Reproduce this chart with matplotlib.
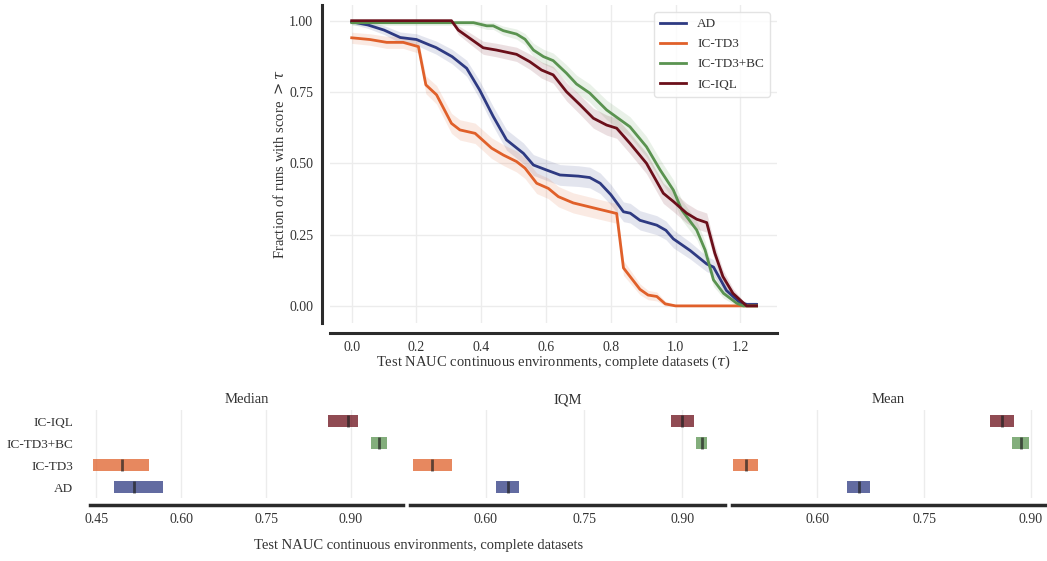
import numpy as np
import matplotlib
matplotlib.use("Agg")
import matplotlib.pyplot as plt

plt.rcParams['font.family'] = ['Liberation Serif', 'DejaVu Serif']
plt.rcParams['mathtext.fontset'] = 'dejavuserif'

# ---------------- data ----------------
algorithms = ["AD", "IC-TD3", "IC-TD3+BC", "IC-IQL"]
colors = {"AD": "#2e3a82", "IC-TD3": "#e0602a", "IC-TD3+BC": "#5a9350", "IC-IQL": "#6b0f1a"}

ad_x = [0, 0.05, 0.1, 0.15, 0.2, 0.24, 0.26, 0.31, 0.355, 0.395, 0.437, 0.478, 0.53, 0.561, 0.60, 0.643,
        0.70, 0.735, 0.767, 0.80, 0.839, 0.86, 0.89, 0.942, 0.97, 0.993, 1.045, 1.096, 1.117, 1.157, 1.198, 1.22, 1.25]
ad_y = [0.996, 0.985, 0.967, 0.941, 0.934, 0.915, 0.906, 0.874, 0.833, 0.757, 0.664, 0.582, 0.535, 0.494, 0.477, 0.459,
        0.455, 0.450, 0.430, 0.39, 0.33, 0.325, 0.30, 0.283, 0.265, 0.235, 0.194, 0.147, 0.136, 0.054, 0.012, 0.005, 0.005]

td3_x = [0, 0.056, 0.108, 0.159, 0.206, 0.229, 0.262, 0.308, 0.334, 0.381, 0.432, 0.468, 0.509, 0.535, 0.571, 0.607,
         0.638, 0.684, 0.767, 0.818, 0.839, 0.89, 0.915, 0.942, 0.968, 1.0, 1.25]
td3_y = [0.940, 0.934, 0.924, 0.924, 0.909, 0.775, 0.740, 0.640, 0.617, 0.605, 0.553, 0.529, 0.506, 0.483, 0.430, 0.412,
         0.383, 0.361, 0.338, 0.324, 0.133, 0.058, 0.038, 0.033, 0.007, 0.0, 0.0]

td3bc_x = [0, 0.376, 0.417, 0.437, 0.468, 0.509, 0.535, 0.561, 0.592, 0.622, 0.663, 0.694, 0.735, 0.787, 0.859,
           0.91, 0.952, 0.993, 1.019, 1.065, 1.091, 1.117, 1.148, 1.189, 1.209, 1.25]
td3bc_y = [0.993, 0.993, 0.982, 0.982, 0.965, 0.953, 0.935, 0.897, 0.874, 0.860, 0.816, 0.778, 0.746, 0.687, 0.628,
           0.558, 0.477, 0.406, 0.336, 0.266, 0.196, 0.091, 0.044, 0.009, 0.0, 0.0]

iql_x = [0, 0.308, 0.329, 0.365, 0.406, 0.447, 0.509, 0.55, 0.586, 0.622, 0.663, 0.705, 0.746, 0.787, 0.818, 0.859,
         0.91, 0.962, 0.993, 1.034, 1.065, 1.096, 1.121, 1.146, 1.177, 1.219, 1.25]
iql_y = [1.0, 1.0, 0.967, 0.938, 0.905, 0.897, 0.882, 0.856, 0.827, 0.810, 0.751, 0.705, 0.658, 0.634, 0.623, 0.570,
         0.500, 0.395, 0.366, 0.325, 0.304, 0.292, 0.185, 0.103, 0.044, 0.0, 0.0]

profiles = {"AD": (ad_x, ad_y), "IC-TD3": (td3_x, td3_y),
            "IC-TD3+BC": (td3bc_x, td3bc_y), "IC-IQL": (iql_x, iql_y)}

metrics = ["Median", "IQM", "Mean"]
# (low, point, high) per algorithm per metric
median_ci = {"AD": (0.481, 0.516, 0.568), "IC-TD3": (0.444, 0.496, 0.543),
             "IC-TD3+BC": (0.935, 0.949, 0.963), "IC-IQL": (0.859, 0.894, 0.912)}
iqm_ci = {"AD": (0.615, 0.633, 0.650), "IC-TD3": (0.488, 0.517, 0.548),
          "IC-TD3+BC": (0.921, 0.930, 0.938), "IC-IQL": (0.882, 0.900, 0.918)}
mean_ci = {"AD": (0.642, 0.658, 0.674), "IC-TD3": (0.482, 0.499, 0.517),
           "IC-TD3+BC": (0.874, 0.886, 0.898), "IC-IQL": (0.843, 0.860, 0.877)}
metric_data = [median_ci, iqm_ci, mean_ci]
metric_xlims = [(0.439, 0.992), (0.484, 0.965), (0.480, 0.920)]
interval_ticks = [0.45, 0.60, 0.75, 0.90]
row_order = ["AD", "IC-TD3", "IC-TD3+BC", "IC-IQL"]  # bottom to top

xlabel_text = "Test NAUC continuous environments, complete datasets"

# ---------------- figure ----------------
W, H = 1047, 561
fig = plt.figure(figsize=(W / 100, H / 100), dpi=100)

def px_axes(l, t, r, b):
    return fig.add_axes([l / W, 1 - b / H, (r - l) / W, (b - t) / H])

spine_col = "#2b2b2b"
grid_col = "#ececec"

# ---- performance profile ----
ax = px_axes(330, 5, 777, 323)
for name in algorithms:
    xs, ys = profiles[name]
    xs = np.array(xs); ys = np.array(ys)
    hw = 0.065 * np.sqrt(np.clip(ys * (1 - ys), 0, None)) + 0.004
    ax.fill_between(xs, np.clip(ys - hw, 0, 1), np.clip(ys + hw, 0, 1.0),
                    color=colors[name], alpha=0.13, linewidth=0)
    ax.plot(xs, ys, color=colors[name], lw=2.0, label=name)

ax.set_xticks([0.0, 0.2, 0.4, 0.6, 0.8, 1.0, 1.2])
ax.set_yticks([0.0, 0.25, 0.5, 0.75, 1.0])
ax.set_yticklabels(["0.00", "0.25", "0.50", "0.75", "1.00"])
ax.set_xlim(-0.067, 1.313)
ax.set_ylim(-0.06, 1.055)
ax.grid(True, color=grid_col, lw=1.0)
ax.set_axisbelow(True)
for s in ["top", "right"]:
    ax.spines[s].set_visible(False)
for s in ["left", "bottom"]:
    ax.spines[s].set_color(spine_col)
    ax.spines[s].set_linewidth(2.2)
ax.spines["left"].set_position(("outward", 6))
ax.spines["bottom"].set_position(("outward", 7))
ax.tick_params(length=0, labelsize=10, colors="#333333", pad=6)
ax.set_xlabel(xlabel_text + r" ($\tau$)", fontsize=10.5, color="#333333", labelpad=0)
ax.set_ylabel(r"Fraction of runs with score $> \tau$", fontsize=10.5, color="#333333", labelpad=2)
leg = ax.legend(loc="upper right", fontsize=9.5, frameon=True, handlelength=2.0,
                borderpad=0.45, labelspacing=0.6, handletextpad=0.8, borderaxespad=0,
                bbox_to_anchor=(0.984, 0.978))
leg.get_frame().set_edgecolor("#dddddd")
leg.get_frame().set_linewidth(1.0)
for t in leg.get_texts():
    t.set_color("#333333")

# ---- interval estimates ----
panel_px = [(90, 403), (410, 725), (732, 1045)]
for i, (metric, data, xl, (l, r)) in enumerate(zip(metrics, metric_data, metric_xlims, panel_px)):
    a = px_axes(l, 410, r, 498)
    for j, name in enumerate(row_order):
        lo, pt, hi = data[name]
        a.barh(j, hi - lo, left=lo, height=0.58, color=colors[name], alpha=0.75, linewidth=0)
        a.vlines(pt, j - 0.29, j + 0.29, color="#222222", alpha=0.7, lw=2.0)
    a.set_xticks(interval_ticks)
    a.set_xticklabels(["%.2f" % v for v in interval_ticks])
    a.set_yticks(range(len(row_order)))
    if i == 0:
        a.set_yticklabels(row_order)
    else:
        a.set_yticklabels([])
    a.set_xlim(*xl)
    a.set_ylim(-0.5, 3.5)
    a.grid(True, axis="x", color=grid_col, lw=1.0)
    a.set_axisbelow(True)
    for s in ["top", "right", "left"]:
        a.spines[s].set_visible(False)
    a.spines["bottom"].set_color(spine_col)
    a.spines["bottom"].set_linewidth(2.5)
    a.spines["bottom"].set_position(("outward", 5))
    a.tick_params(axis="x", length=0, labelsize=10, colors="#333333", pad=6)
    a.tick_params(axis="y", length=0, labelsize=9.5, colors="#333333", pad=12)
    a.set_title(metric, fontsize=10.5, color="#333333", pad=5)

fig.text(0.40, 0.027, xlabel_text, ha="center", va="center", fontsize=10.5, color="#333333")

fig.savefig("out.png", dpi=100)
